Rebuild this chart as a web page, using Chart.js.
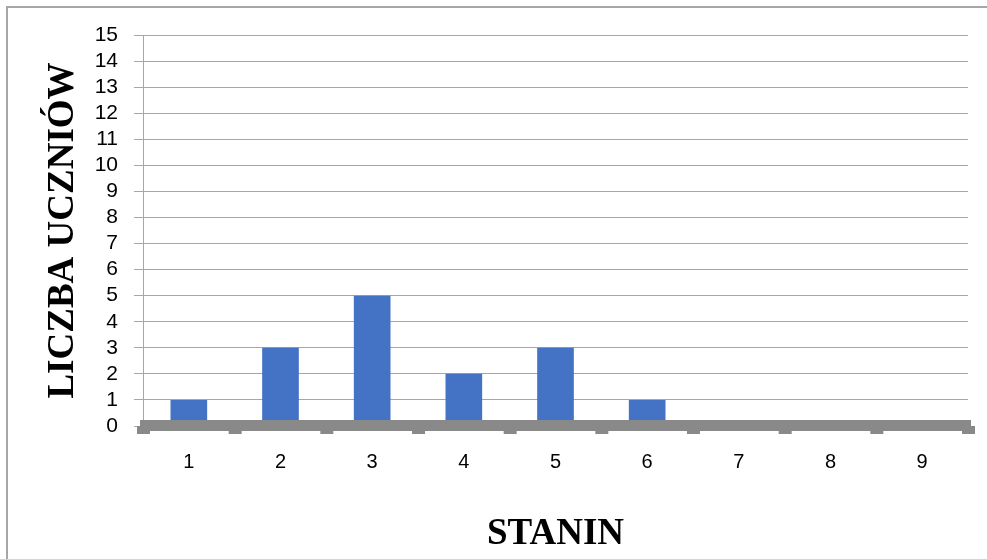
<!DOCTYPE html>
<html>
<head>
<meta charset="utf-8">
<script src="https://cdn.jsdelivr.net/npm/chart.js@4"></script>
<style>
  body { margin: 0; background: #fff; }
  canvas { display: block; }
</style>
</head>
<body>
<canvas id="chart" width="987" height="559"></canvas>
<script>
const stanin = ['1', '2', '3', '4', '5', '6', '7', '8', '9'];
const liczba = [1, 3, 5, 2, 3, 1, 0, 0, 0];
const yMin = 0;
const yMax = 15;
const yStep = 1;

// gray frame around the chart (only left and top are visible)
const frame = {
    id: 'frame',
    beforeDraw(chart) {
        const ctx = chart.ctx;
        ctx.save();
        ctx.fillStyle = '#fff';
        ctx.fillRect(0, 0, chart.width, chart.height);
        ctx.strokeStyle = '#a6a6a6';
        ctx.lineWidth = 2;
        ctx.strokeRect(7, 7, chart.width + 20, chart.height + 20);
        ctx.restore();
    }
};

// thick gray "floor" on the x axis with small tabs between categories
const floor = {
    id: 'floor',
    afterDatasetsDraw(chart) {
        const ctx = chart.ctx;
        const x = chart.scales.x;
        const y0 = chart.scales.y.getPixelForValue(0);
        const step = (x.right - x.left) / stanin.length;
        ctx.save();
        ctx.fillStyle = '#898989';
        ctx.fillRect(x.left - 3, y0 - 6, x.right - x.left + 6, 11);
        for (let k = 0; k <= stanin.length; k++) {
            const cx = x.left + k * step;
            ctx.fillRect(cx - 6, y0, 13, 8);
        }
        ctx.restore();
    }
};

const data = {
    labels: stanin,
    datasets: [{
        data: liczba,
        backgroundColor: '#4472C4',
        barPercentage: 0.4,
        categoryPercentage: 1
    }]
};

const config = {
    type: 'bar',
    data: data,
    plugins: [frame, floor],
    options: {
        responsive: false,
        animation: false,
        layout: { padding: { top: 35, right: 19, left: 0, bottom: 0 } },
        plugins: {
            legend: { display: false },
            tooltip: { enabled: false }
        },
        scales: {
            x: {
                grid: { display: false, drawTicks: false },
                border: { display: false },
                ticks: {
                    padding: 24,
                    color: '#000',
                    font: { family: 'Liberation Sans', size: 20 }
                },
                title: {
                    display: true,
                    text: 'STANIN',
                    color: '#000',
                    font: { family: 'Liberation Serif', size: 37, weight: 'bold' },
                    padding: { top: 0, bottom: 2 }
                },
                afterFit(scale) { scale.height = 133; }
            },
            y: {
                min: yMin,
                max: yMax,
                ticks: {
                    stepSize: yStep,
                    autoSkip: false,
                    padding: 16,
                    color: '#000',
                    font: { family: 'Liberation Sans', size: 21 }
                },
                grid: { color: '#a6a6a6', tickLength: 9, lineWidth: 1 },
                border: { color: '#a6a6a6', width: 1 },
                title: {
                    display: true,
                    text: 'LICZBA UCZNIÓW',
                    color: '#000',
                    font: { family: 'Liberation Serif', size: 37, weight: 'bold' },
                    padding: { top: 41, bottom: 0 }
                },
                afterFit(scale) { scale.width = 143; }
            }
        }
    }
};

const chart1 = new Chart(document.getElementById('chart').getContext('2d'), config);
</script>
</body>
</html>
